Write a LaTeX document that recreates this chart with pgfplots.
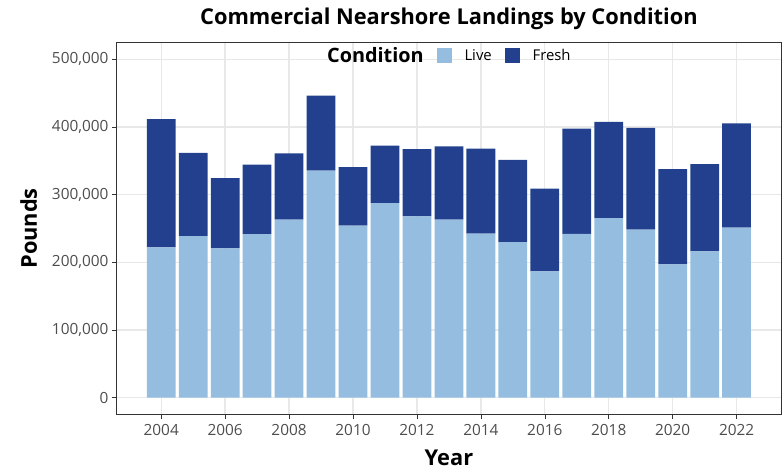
\documentclass[border=0pt]{standalone}
\usepackage{pgfplots}
\usepackage{pgfplotstable}
\pgfplotsset{compat=1.18}
\usepackage{fontspec}
\setmainfont{Open Sans}
\definecolor{live}{HTML}{94BDE0}
\definecolor{fresh}{HTML}{23408E}
\definecolor{gridc}{HTML}{E8E8E8}
\definecolor{frame}{HTML}{333333}
\definecolor{ticklab}{HTML}{4D4D4D}

\pgfplotstableread{
year live fresh
2004 221900 189700
2005 238600 123100
2006 220400 104100
2007 241500 102600
2008 262900 97800
2009 335300 110900
2010 254100 86500
2011 287400 85000
2012 267900 99100
2013 262900 108500
2014 242400 125600
2015 229700 121700
2016 186700 122200
2017 241900 155500
2018 265400 142200
2019 248300 150100
2020 197000 140700
2021 216000 129000
2022 251200 154000
}\datatable

\begin{document}
\begin{tikzpicture}
\begin{axis}[
  scale only axis,
  width=668bp, height=374bp,
  xmin=2002.6, xmax=2023.4,
  ymin=-25000, ymax=525000,
  ybar stacked, bar width=0.9, bar shift=0pt,
  axis line style={frame, line width=0.6bp},
  xtick={2004,2006,2008,2010,2012,2014,2016,2018,2020,2022},
  xticklabels={2004,2006,2008,2010,2012,2014,2016,2018,2020,2022},
  ytick={0,100000,200000,300000,400000,500000},
  yticklabels={0,{100,000},{200,000},{300,000},{400,000},{500,000}},
  scaled ticks=false,
  tick align=outside, xtick pos=bottom, ytick pos=left,
  major tick length=4.5bp,
  tick style={frame, line width=0.6bp},
  ticklabel style={font=\fontsize{15.5}{18}\selectfont, text=ticklab},
  xticklabel style={yshift=-2bp},
  grid=major,
  major grid style={gridc, line width=1.3bp},
  title={\bfseries Commercial Nearshore Landings by Condition},
  title style={at={(axis description cs:0.5,1)}, anchor=base, yshift=11.5bp, font=\fontsize{22}{26}\selectfont},
  xlabel={\bfseries Year},
  xlabel style={at={(axis description cs:0.5,-0.1377)}, anchor=base, font=\fontsize{22}{26}\selectfont},
  ylabel={\bfseries Pounds},
  ylabel style={at={(axis description cs:-0.1198,0.5)}, anchor=base, font=\fontsize{22}{26}\selectfont},
  legend columns=-1,
  legend style={at={(0.5,1)}, anchor=north, draw=none, fill=none,
    font=\fontsize{15}{18}\selectfont, yshift=-1bp, xshift=-5.5bp,
    /tikz/every odd column/.append style={column sep=11bp},
    /tikz/every even column/.append style={column sep=11bp}},
  legend image code/.code={\fill[#1] (0bp,-7.5bp) rectangle (15bp,7.5bp);},
]
\addlegendimage{empty legend}
\addlegendentry{\fontsize{20}{22}\selectfont\bfseries Condition}
\addplot[fill=live, draw=none] table[x=year, y=live] {\datatable};
\addlegendentry{Live}
\addplot[fill=fresh, draw=none] table[x=year, y=fresh] {\datatable};
\addlegendentry{Fresh}
\end{axis}
\path[use as bounding box] ([xshift=-117bp,yshift=-57.5bp]current axis.south west) rectangle ([xshift=-3bp,yshift=42.5bp]current axis.north east);
\end{tikzpicture}
\end{document}
